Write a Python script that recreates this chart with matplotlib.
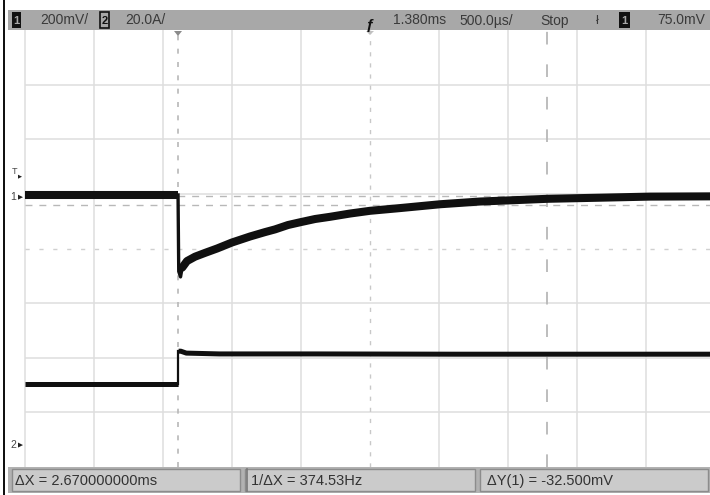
import matplotlib
matplotlib.use("Agg")
import matplotlib.pyplot as plt
from matplotlib.patches import Rectangle, Polygon

# scope settings
ch1_scale_mv = 200.0      # mV / div
ch2_scale_a = 20.0        # A / div
time_scale_ms = 0.5       # ms / div
step_from_left_ms = 1.109 # step position measured from left edge of screen

# channel ground markers (div from screen centre)
ch1_gnd_div = 0.94
ch2_gnd_div = -3.60
trig_level_mv = 75.0

# channel 1 (voltage), time in ms after the step, mV from ch1 ground
ch1_pre_mv = 8
ch1_dip_mv = -292
ch1_t = [0.030, 0.065, 0.123, 0.196, 0.283, 0.391, 0.522, 0.630, 0.703, 0.797,
         0.884, 0.993, 1.101, 1.246, 1.391, 1.609, 1.899, 2.188, 2.391, 2.681,
         3.058, 3.420, 3.900]
ch1_mv = [-258, -234, -218, -204, -188, -166, -144, -128, -118, -102,
          -92, -80, -72, -60, -50, -40, -26, -16, -12, -6,
          -2, 2, 3]

# channel 2 (current), A from ch2 ground
ch2_pre_a = 22.4
ch2_t = [0.004, 0.020, 0.060, 0.300, 1.000, 2.000, 3.000, 3.900]
ch2_a = [34.4, 34.4, 33.7, 33.4, 33.4, 33.3, 33.3, 33.3]

# cursors
cursor_dx_ms = 2.67
cursor_y1_mv = 4.0
cursor_dy_mv = -32.5

top_labels = ["200mV/", "20.0A/", "1.380ms", "500.0\u00b5s/", "Stop", "75.0mV"]
bottom_labels = ["\u0394X = 2.670000000ms", "1/\u0394X = 374.53Hz", "\u0394Y(1) = -32.500mV"]

plt.rcParams['font.family'] = ['Liberation Sans', 'DejaVu Sans']

fig = plt.figure(figsize=(7.1, 4.95), dpi=100)
fig.patch.set_facecolor("white")

ax = fig.add_axes([25 / 710, 28 / 495, 690 / 710, 437 / 495])
x0 = -step_from_left_ms
ax.set_xlim(x0, x0 + 10 * time_scale_ms)
ax.set_ylim(-4, 4)
ax.axis("off")

grid_c = "#dedede"
for k in range(11):
    if k == 5:
        continue
    ax.axvline(x0 + k * time_scale_ms, color=grid_c, lw=1.1, clip_on=False, zorder=1)
for k in range(-3, 4):
    if k == 0:
        continue
    ax.axhline(k, color=grid_c, lw=1.1, zorder=1)
# centre axes with tick marks
ax.axhline(0, color="#d0d0d0", lw=1.0, dashes=(3, 7), zorder=1)
ax.axvline(x0 + 5 * time_scale_ms, color="#c8c8c8", lw=1.0, dashes=(3, 5), zorder=1)

# cursors
cur_c = "#b8b8b8"
ax.axvline(0, color=cur_c, lw=1.2, dashes=(3, 5), zorder=2)
ax.axvline(cursor_dx_ms, color=cur_c, lw=1.3, dashes=(7, 11), zorder=2)
y1 = ch1_gnd_div + cursor_y1_mv / ch1_scale_mv
y2 = ch1_gnd_div + (cursor_y1_mv + cursor_dy_mv) / ch1_scale_mv
ax.axhline(y1, color=cur_c, lw=1.0, dashes=(5, 5), zorder=2)
ax.axhline(y2, color=cur_c, lw=1.0, dashes=(5, 5), zorder=2)

# channel 1 trace
tr = "#101010"
pre1 = ch1_gnd_div + ch1_pre_mv / ch1_scale_mv
ax.plot([x0, 0], [pre1, pre1], color=tr, lw=5.8, solid_capstyle="butt", zorder=5)
ax.plot([0, 0.005, 0.018, ch1_t[0]],
        [pre1, ch1_gnd_div + ch1_dip_mv / ch1_scale_mv + 0.1,
         ch1_gnd_div + ch1_dip_mv / ch1_scale_mv,
         ch1_gnd_div + ch1_mv[0] / ch1_scale_mv],
        color=tr, lw=2.4, zorder=5)
ax.plot(ch1_t, [ch1_gnd_div + v / ch1_scale_mv for v in ch1_mv],
        color=tr, lw=5.8, solid_capstyle="round", solid_joinstyle="round", zorder=5)

# channel 2 trace
pre2 = ch2_gnd_div + ch2_pre_a / ch2_scale_a
ax.plot([x0, 0], [pre2, pre2], color=tr, lw=3.6, solid_capstyle="butt", zorder=5)
ax.plot([0, 0], [pre2, ch2_gnd_div + ch2_a[0] / ch2_scale_a], color=tr, lw=1.6, zorder=5)
ax.plot(ch2_t, [ch2_gnd_div + v / ch2_scale_a for v in ch2_a],
        color=tr, lw=3.6, solid_capstyle="butt", zorder=5)

# overlay in pixel coords for the scope frame
ov = fig.add_axes([0, 0, 1, 1])
ov.set_xlim(0, 710)
ov.set_ylim(495, 0)
ov.axis("off")
ov.patch.set_alpha(0)

ov.add_patch(Rectangle((2.5, 0), 2.5, 495, fc="#111111", ec="none"))
ov.add_patch(Rectangle((8, 10), 702, 20, fc="#a8a8a8", ec="none"))
ov.add_patch(Rectangle((8, 467), 702, 26, fc="#b2b2b2", ec="none"))
for bx, bw in [(12, 228), (245, 230), (480, 228)]:
    ov.add_patch(Rectangle((bx, 469), bw, 22, fc="#cbcbcb", ec="#8c8c8c", lw=1))
ov.plot([247, 247], [469, 491], color="#777777", lw=1.2)

txt_c = "#3a3a3a"
tfs = 10
# channel icons
ov.add_patch(Rectangle((12, 12), 9, 16, fc="#111111", ec="none"))
ov.text(16.5, 20.5, "1", color="#a8a8a8", fontsize=8, ha="center", va="center", fontweight="bold")
ov.add_patch(Rectangle((100, 12), 9, 16, fc="none", ec="#111111", lw=1.2))
ov.text(104.5, 20.5, "2", color="#111111", fontsize=8, ha="center", va="center", fontweight="bold")
ov.add_patch(Rectangle((619, 12), 11, 16, fc="#111111", ec="none"))
ov.text(624.5, 20.5, "1", color="#a8a8a8", fontsize=8, ha="center", va="center", fontweight="bold")

for x, s in zip([40, 125, 393, 459, 540, 657], top_labels):
    ov.text(x, 20.5, s, color=txt_c, fontsize=tfs, ha="left", va="center")
ov.text(370, 25, "\u0192", color="#111111", fontsize=11, ha="center", va="center", fontweight="bold")
ov.text(597, 20.5, "\u0142", color=txt_c, fontsize=9, ha="center", va="center")

for x, s in zip([15, 251, 487], bottom_labels):
    ov.text(x, 481, s, color="#333333", fontsize=10.5, ha="left", va="center")

# markers under the top bar (cursor / trigger position)
ov.add_patch(Polygon([[174, 31], [182, 31], [178, 36]], closed=True, fc="#8a8a8a", ec="none"))
ov.add_patch(Polygon([[366, 31], [374, 31], [370, 35]], closed=True, fc="#c0c0c0", ec="none"))

# left side ground / trigger markers
def div_to_px(d):
    return 248.5 - d * 54.6

yt = div_to_px(ch1_gnd_div + trig_level_mv / ch1_scale_mv)
ov.text(15, yt - 5, "T", color="#444444", fontsize=6.5, ha="center", va="center")
ov.add_patch(Polygon([[18, yt - 2], [22, yt], [18, yt + 2]], closed=True, fc="#222222"))
yg1 = div_to_px(ch1_gnd_div)
ov.text(13, yg1, "1", color="#444444", fontsize=7.5, ha="center", va="center")
ov.add_patch(Polygon([[18, yg1 - 2.5], [23, yg1], [18, yg1 + 2.5]], closed=True, fc="#222222"))
yg2 = div_to_px(ch2_gnd_div)
ov.text(13, yg2, "2", color="#444444", fontsize=7.5, ha="center", va="center")
ov.add_patch(Polygon([[18, yg2 - 2.5], [23, yg2], [18, yg2 + 2.5]], closed=True, fc="#222222"))

fig.savefig("out.png", dpi=100)
